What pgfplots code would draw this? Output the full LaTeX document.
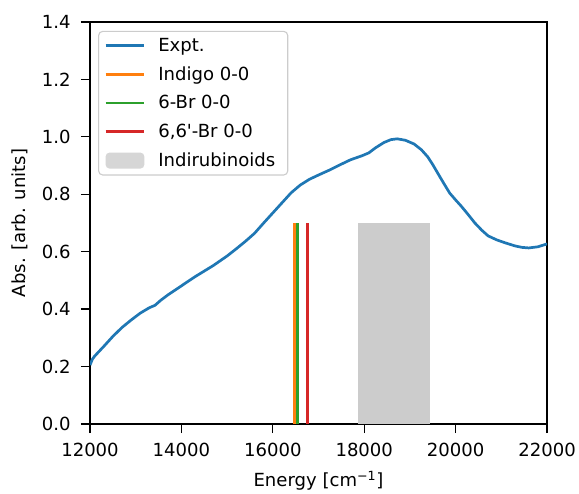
\documentclass[border=0pt]{standalone}
\usepackage{fontspec}
\setmainfont{DejaVu Sans}
\usepackage{pgfplots}
\pgfplotsset{compat=1.18}

\definecolor{tabblue}{HTML}{1F77B4}
\definecolor{taborange}{HTML}{FF7F0E}
\definecolor{tabgreen}{HTML}{2CA02C}
\definecolor{tabred}{HTML}{D62728}
\definecolor{spangray}{HTML}{CCCCCC}

\begin{document}
\begin{tikzpicture}
\begin{axis}[
    name=ax,
    scale only axis,
    width=329pt, height=289.4pt,
    xmin=12000, xmax=22000,
    ymin=0, ymax=1.4,
    xtick={12000,14000,...,22000},
    ytick={0,0.2,...,1.4},
    scaled x ticks=false,
    xticklabel style={/pgf/number format/1000 sep={}},
    yticklabel style={/pgf/number format/fixed, /pgf/number format/fixed zerofill, /pgf/number format/precision=1},
    /pgf/number format/assume math mode=true,
    tick label style={font=\fontsize{13}{15.6}\selectfont},
    label style={font=\fontsize{13}{15.6}\selectfont},
    xticklabel shift=4pt,
    yticklabel shift=4pt,
    xlabel shift=3pt,
    ylabel shift=3.5pt,
    xlabel={Energy [cm\textsuperscript{−1}]},
    ylabel={Abs. [arb. units]},
    tick align=outside,
    tick pos=left,
    major tick length=6.5pt,
    every tick/.style={line width=0.9pt, black},
    axis line style={line width=0.9pt},
    legend cell align=left,
    legend style={draw=black!20, line width=0.8pt, rounded corners=3pt, fill=white, fill opacity=0.8, text opacity=1,
        font=\fontsize{13}{15.6}\selectfont, at={(0.0176,0.978)}, anchor=north west,
        inner xsep=4pt, inner ysep=3.5pt, row sep=7.1pt,
        nodes={inner xsep=5pt, inner ysep=1.2pt}},
    legend image code/.code={\draw[#1] (0pt,0pt) -- (28pt,0pt); \path (32pt,0pt);},
]

\addplot[color=tabblue, line width=1.95pt] coordinates {
    (12000,0.205) (12050,0.225) (12100,0.236) (12300,0.270) (12500,0.305)
    (12700,0.336) (12900,0.362) (13100,0.386) (13300,0.405) (13420,0.413)
    (13550,0.431) (13700,0.449) (14000,0.481) (14300,0.513) (14700,0.552)
    (15000,0.585) (15200,0.610) (15400,0.636) (15600,0.664) (15800,0.700)
    (16000,0.735) (16200,0.770) (16400,0.805) (16600,0.832) (16800,0.852)
    (17000,0.867) (17250,0.885) (17450,0.901) (17700,0.920) (17950,0.934)
    (18100,0.944) (18250,0.962) (18430,0.980) (18580,0.990) (18720,0.993)
    (18900,0.988) (19090,0.975) (19250,0.955) (19390,0.930) (19500,0.903)
    (19610,0.873) (19740,0.838) (19870,0.804) (20000,0.780) (20125,0.758)
    (20270,0.730) (20420,0.700) (20570,0.675) (20710,0.655) (20900,0.641)
    (21080,0.631) (21300,0.620) (21450,0.615) (21600,0.613) (21800,0.617)
    (22000,0.627)
};
\addlegendentry{Expt.}

\addplot[color=taborange, line width=1.95pt] coordinates {(16470,0) (16470,0.7)};
\addlegendentry{Indigo 0-0}

\addplot[color=tabgreen, line width=1.95pt] coordinates {(16545,0) (16545,0.7)};
\addlegendentry{6-Br 0-0}

\addplot[color=tabred, line width=1.95pt] coordinates {(16765,0) (16765,0.7)};
\addlegendentry{6,6\textquotesingle-Br 0-0}

\addplot[fill=spangray, draw=none, area legend,
    legend image code/.code={\fill[spangray] (0pt,-5.8pt) rectangle (28pt,5.8pt); \path (32pt,0pt);}]
    coordinates {(17870,0) (17870,0.7) (19430,0.7) (19430,0)} -- cycle;
\addlegendentry{Indirubinoids}

\end{axis}
\pgfresetboundingbox
\path ([xshift=-64.8pt, yshift=-50.4pt]ax.south west) rectangle ([xshift=23pt, yshift=15.8pt]ax.north east);
\end{tikzpicture}
\end{document}
